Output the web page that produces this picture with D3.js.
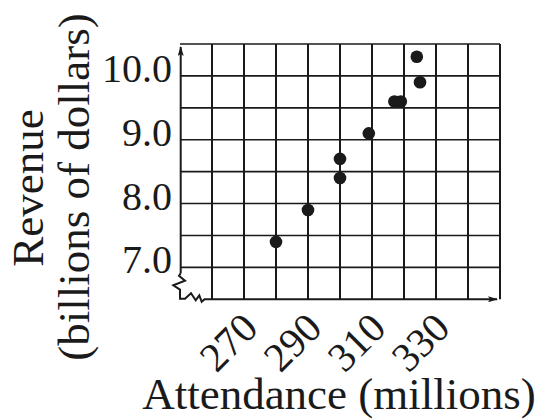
<!DOCTYPE html>
<html lang="en">

<head>
  <meta charset="UTF-8">
  <title>Attendance vs Revenue</title>
  <script src="https://d3js.org/d3.v7.min.js"></script>
  <style>
    body {
      margin: 0;
      background: #fff;
    }

    /* grid lines */
    .vgrid {
      stroke: #1a1a1a;
      stroke-width: 2px;
    }

    .hgrid {
      stroke: #1a1a1a;
      stroke-width: 1.6px;
    }

    .axis-line {
      stroke: #1a1a1a;
      stroke-width: 2px;
      fill: none;
    }

    .dot {
      fill: #1a1a1a;
    }
  </style>
</head>

<body>
  <div id="chart"></div>

  <script>
    // data
    const attendance = [280, 290, 300, 300, 309, 317, 319, 324, 325];
    const revenue = [7.4, 7.9, 8.4, 8.7, 9.1, 9.6, 9.6, 10.3, 9.9];

    const xTicks = [270, 290, 310, 330];
    const yTicks = [7.0, 8.0, 9.0, 10.0];

    const width = 545;
    const height = 419;
    const serif = 'Liberation Serif, Times New Roman, Times, DejaVu Serif, serif';

    const svg = d3.select('#chart').append('svg')
      .attr('width', width)
      .attr('height', height)
      .style('display', 'block');

    const x = d3.scaleLinear().domain([250, 350]).range([180, 500]);
    const y = d3.scaleLinear().domain([6.5, 10.5]).range([299.3, 44]);

    const x0 = x(250), y0 = y(6.5);

    // arrowhead marker
    svg.append('defs').append('marker')
      .attr('id', 'arrow')
      .attr('viewBox', '0 0 10 6')
      .attr('refX', 9)
      .attr('refY', 3)
      .attr('markerWidth', 10)
      .attr('markerHeight', 6)
      .attr('markerUnits', 'userSpaceOnUse')
      .attr('orient', 'auto')
      .append('path')
      .attr('d', 'M0,0 L10,3 L0,6 L2,3 Z')
      .attr('fill', '#1a1a1a');

    // vertical grid lines (one every 10 million)
    svg.selectAll('.vgrid')
      .data(d3.range(260, 351, 10))
      .enter().append('line')
      .attr('class', 'vgrid')
      .attr('x1', d => x(d))
      .attr('x2', d => x(d))
      .attr('y1', y(10.5))
      .attr('y2', y0);

    // horizontal grid lines (one every 0.5 billion)
    svg.selectAll('.hgrid')
      .data(d3.range(7.0, 10.51, 0.5))
      .enter().append('line')
      .attr('class', 'hgrid')
      .attr('x1', x0)
      .attr('x2', x(350))
      .attr('y1', d => y(d))
      .attr('y2', d => y(d));

    // y axis with arrow
    svg.append('line')
      .attr('class', 'axis-line')
      .attr('x1', x0 + 0.7)
      .attr('x2', x0 + 0.7)
      .attr('y1', y0 - 26)
      .attr('y2', y(10.5) + 3)
      .attr('marker-end', 'url(#arrow)');

    // x axis with arrow
    svg.append('line')
      .attr('class', 'axis-line')
      .attr('x1', x0 + 24)
      .attr('x2', x(350) - 3)
      .attr('y1', y0)
      .attr('y2', y0)
      .attr('marker-end', 'url(#arrow)');

    // zigzag break at the corner
    const brk = [[0.7, -26], [-1, -23.5], [5, -18.5], [-6.7, -14], [0, -9.7], [0, -0.5],
      [5, -0.5], [11, -6], [15.7, 1], [19.3, -4], [21.7, 2.5], [24.5, 0]];
    svg.append('path')
      .attr('class', 'axis-line')
      .attr('stroke-linejoin', 'miter')
      .attr('d', d3.line()(brk.map(p => [x0 + p[0], y0 + p[1]])));

    // points
    svg.selectAll('.dot')
      .data(attendance)
      .enter().append('circle')
      .attr('class', 'dot')
      .attr('cx', d => x(d))
      .attr('cy', (d, i) => y(revenue[i]))
      .attr('r', 6.3);

    // y tick labels
    svg.selectAll('.ylab')
      .data(yTicks)
      .enter().append('text')
      .attr('class', 'ylab')
      .attr('x', 172)
      .attr('y', d => y(d) + 6)
      .attr('text-anchor', 'end')
      .attr('font-family', serif)
      .attr('font-size', 40)
      .attr('fill', '#1a1a1a')
      .text(d => d.toFixed(1));

    // x tick labels, rotated
    svg.selectAll('.xlab')
      .data(xTicks)
      .enter().append('text')
      .attr('class', 'xlab')
      .attr('text-anchor', 'end')
      .attr('font-family', serif)
      .attr('font-size', 41)
      .attr('fill', '#1a1a1a')
      .attr('transform', d => `translate(${x(d) + 16},${y0 + 31}) rotate(-45)`)
      .text(d => d);

    // axis titles
    svg.append('text')
      .attr('text-anchor', 'middle')
      .attr('font-family', serif)
      .attr('font-size', 45)
      .attr('fill', '#1a1a1a')
      .attr('transform', 'translate(43,188) rotate(-90)')
      .text('Revenue');

    svg.append('text')
      .attr('text-anchor', 'middle')
      .attr('font-family', serif)
      .attr('font-size', 45)
      .attr('fill', '#1a1a1a')
      .attr('transform', 'translate(89,187) rotate(-90)')
      .text('(billions of dollars)');

    svg.append('text')
      .attr('text-anchor', 'middle')
      .attr('font-family', serif)
      .attr('font-size', 45)
      .attr('fill', '#1a1a1a')
      .attr('x', 339)
      .attr('y', 409)
      .text('Attendance (millions)');
  </script>
</body>

</html>
